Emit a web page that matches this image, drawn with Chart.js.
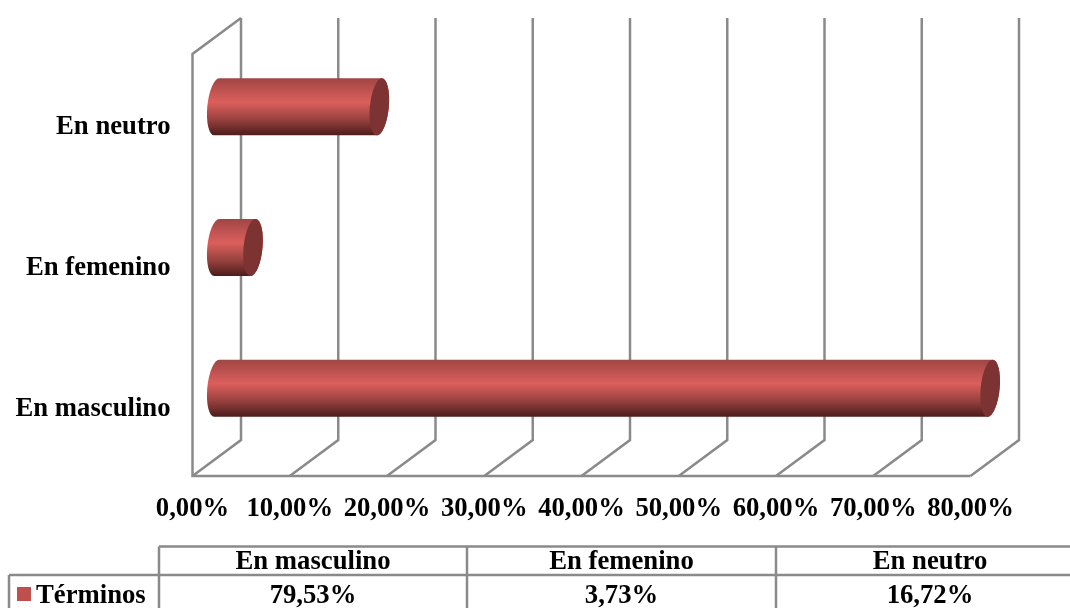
<!DOCTYPE html>
<html>
<head>
<meta charset="utf-8">
<script src="https://cdn.jsdelivr.net/npm/chart.js@4"></script>
<style>
  html, body { margin: 0; padding: 0; background: #fff; overflow: hidden; }
  canvas { display: block; }
</style>
</head>
<body>
<canvas id="myChart" width="1070" height="608"></canvas>
<script>
// top row of chart is the last category, same order as the table under it
const categories = ['En masculino', 'En femenino', 'En neutro'];
const seriesName = 'Términos';
const values = [79.53, 3.73, 16.72];
const xTicksMax = 80;
const xTicksStep = 10;

const lineColor = '#8a8a8a';
const fontSize = 26.7;
const depthX = 48.5;
const depthY = 36;

function percent(v) {
  return v.toFixed(2).replace('.', ',') + '%';
}

// the 3d box: back wall lines and the floor diagonals
const wallsPlugin = {
  id: 'walls',
  beforeDatasetsDraw(chart) {
    const ctx = chart.ctx;
    const x = chart.scales.x;
    const y = chart.scales.y;
    ctx.save();
    ctx.strokeStyle = lineColor;
    ctx.lineWidth = 2.5;
    ctx.lineJoin = 'miter';
    x.ticks.forEach(t => {
      const px = x.getPixelForValue(t.value);
      ctx.beginPath();
      ctx.moveTo(px, y.bottom);
      ctx.lineTo(px + depthX, y.bottom - depthY);
      ctx.lineTo(px + depthX, y.top - depthY);
      ctx.stroke();
    });
    // front left wall and floor edge
    ctx.beginPath();
    ctx.moveTo(x.left + depthX, y.top - depthY);
    ctx.lineTo(x.left, y.top);
    ctx.lineTo(x.left, y.bottom);
    ctx.lineTo(x.right, y.bottom);
    ctx.stroke();
    ctx.restore();
  }
};

// cylinders on top of the bar elements, pushed half way into the box
const cylinderPlugin = {
  id: 'cylinders',
  afterDatasetsDraw(chart) {
    const ctx = chart.ctx;
    chart.getDatasetMeta(0).data.forEach(bar => {
      const h = bar.height;
      const rx = 9.5;
      const xb = bar.base + depthX / 2;
      const xe = bar.x + depthX / 2;
      const cy = bar.y - depthY / 2 + 0.5;
      ctx.save();
      ctx.transform(1, 0, -0.088, 1, 0, cy);

      const g = ctx.createLinearGradient(0, -h / 2, 0, h / 2);
      g.addColorStop(0, '#a04644');
      g.addColorStop(0.42, '#db5f5c');
      g.addColorStop(0.72, '#98423f');
      g.addColorStop(1, '#4c1c1b');

      ctx.beginPath();
      ctx.moveTo(xb, -h / 2);
      ctx.lineTo(xe, -h / 2);
      ctx.ellipse(xe, 0, rx, h / 2, 0, -Math.PI / 2, Math.PI / 2);
      ctx.lineTo(xb, h / 2);
      ctx.ellipse(xb, 0, rx, h / 2, 0, Math.PI / 2, Math.PI * 1.5);
      ctx.closePath();
      ctx.fillStyle = g;
      ctx.fill();

      ctx.beginPath();
      ctx.ellipse(xe, 0, rx, h / 2, 0, 0, Math.PI * 2);
      ctx.fillStyle = '#7e3333';
      ctx.fill();
      ctx.restore();
    });
  }
};

// data table under the plot, legend key sits in the first cell
const tablePlugin = {
  id: 'dataTable',
  afterDraw(chart) {
    const ctx = chart.ctx;
    const colX = [159, 467, 776, 1084];
    const rowY = [546.5, 575, 610];
    ctx.save();
    ctx.strokeStyle = lineColor;
    ctx.lineWidth = 2.5;
    ctx.beginPath();
    ctx.moveTo(colX[0], rowY[0]);
    ctx.lineTo(colX[3], rowY[0]);
    ctx.moveTo(9, rowY[1]);
    ctx.lineTo(colX[3], rowY[1]);
    ctx.moveTo(9, rowY[1]);
    ctx.lineTo(9, rowY[2]);
    colX.forEach(cx => {
      ctx.moveTo(cx, rowY[0]);
      ctx.lineTo(cx, rowY[2]);
    });
    ctx.stroke();

    ctx.fillStyle = '#c0504d';
    ctx.fillRect(17, 587, 14, 14);

    ctx.fillStyle = '#000';
    ctx.font = 'bold ' + fontSize + 'px "Liberation Serif"';
    ctx.textBaseline = 'middle';
    ctx.textAlign = 'left';
    ctx.fillText(seriesName, 36, 596);
    ctx.textAlign = 'center';
    categories.forEach((c, i) => {
      const mid = (colX[i] + colX[i + 1]) / 2;
      ctx.fillText(c, mid, 562);
      ctx.fillText(percent(values[i]), mid, 596);
    });
    ctx.restore();
  }
};

Chart.defaults.font.family = '"Liberation Serif"';
Chart.defaults.font.size = fontSize;
Chart.defaults.font.weight = 'bold';
Chart.defaults.color = '#000';

const myChart = new Chart(document.getElementById('myChart'), {
  type: 'bar',
  data: {
    labels: categories,
    datasets: [{
      label: seriesName,
      data: values,
      backgroundColor: 'transparent',
      barThickness: 57
    }]
  },
  options: {
    indexAxis: 'y',
    responsive: false,
    animation: false,
    events: [],
    layout: { padding: { top: 54, right: 99.5, left: 0, bottom: 0 } },
    plugins: {
      legend: { display: false },
      title: { display: false },
      tooltip: { enabled: false }
    },
    scales: {
      x: {
        min: 0,
        max: xTicksMax,
        afterFit: s => { s.height = 132; },
        grid: { display: false },
        border: { display: false },
        ticks: {
          stepSize: xTicksStep,
          padding: 9,
          maxRotation: 0,
          autoSkip: false,
          callback: v => percent(v)
        }
      },
      y: {
        reverse: true,
        afterFit: s => { s.width = 192.5; },
        grid: { display: false },
        border: { display: false },
        ticks: { padding: 14, labelOffset: 3 }
      }
    }
  },
  plugins: [wallsPlugin, cylinderPlugin, tablePlugin]
});
</script>
</body>
</html>
